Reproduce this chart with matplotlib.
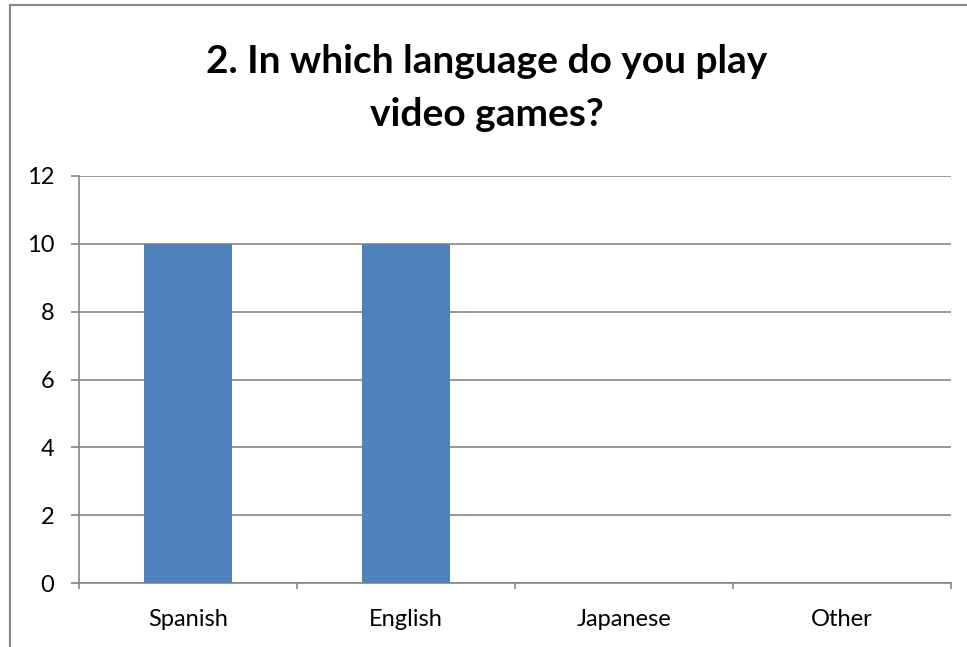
import matplotlib
matplotlib.use('Agg')
import matplotlib.pyplot as plt
import numpy as np

categories = ['Spanish', 'English', 'Japanese', 'Other']
values = [10, 10, 0, 0]
yticks = [0, 2, 4, 6, 8, 10, 12]
title = '2. In which language do you play\nvideo games?'

plt.rcParams['font.family'] = ['Lato', 'DejaVu Sans']

W, H = 967, 647
fig = plt.figure(figsize=(W / 100, H / 100), dpi=100)

# outer chart border (runs off the right and bottom edges)
fig.add_artist(plt.Line2D([10 / W, 10 / W], [0, 1 - 5 / H], transform=fig.transFigure, color='#868686', lw=1.5))
fig.add_artist(plt.Line2D([10 / W, 1], [1 - 5 / H, 1 - 5 / H], transform=fig.transFigure, color='#868686', lw=1.5))

left, right = 79, 951
top, bottom = 176, 583
ax = fig.add_axes([left / W, 1 - bottom / H, (right - left) / W, (bottom - top) / H])

x = np.arange(len(categories))
ax.bar(x, values, width=0.4, color='#4F81BD', zorder=3)

ax.set_xlim(-0.5, len(categories) - 0.5)
ax.set_ylim(0, 12)
ax.set_yticks(yticks)
ax.set_yticklabels([str(v) for v in yticks], fontsize=17)
ax.yaxis.grid(True, color='#868686', lw=1.2, zorder=0)

ax.set_xticks(x)
ax.set_xticklabels(categories, fontsize=17)
ax.tick_params(axis='x', length=0, pad=19)
ax.set_xticks(np.arange(len(categories) + 1) - 0.5, minor=True)
ax.tick_params(axis='x', which='minor', length=4.3, color='#868686', width=1.2)
ax.tick_params(axis='y', length=5.8, color='#868686', width=1.2, pad=12)

for s in ['top', 'right']:
    ax.spines[s].set_visible(False)
for s in ['left', 'bottom']:
    ax.spines[s].set_color('#868686')
    ax.spines[s].set_linewidth(1.2)

fig.text(487 / W, 1 - 88 / H, title, ha='center', va='center', fontsize=28,
         fontweight='bold', linespacing=1.62)

fig.savefig('out.png', dpi=100)
